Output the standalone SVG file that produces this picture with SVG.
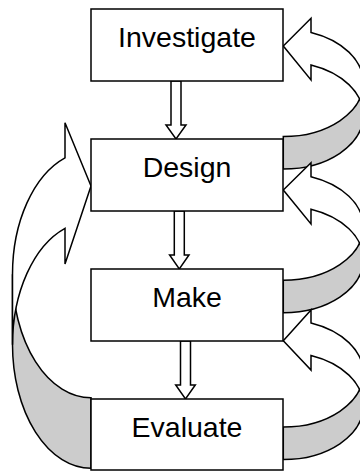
<svg xmlns="http://www.w3.org/2000/svg" width="360" height="471" viewBox="0 0 360 471">
  <style>
    .box { fill: #ffffff; stroke: #000000; stroke-width: 1.5; }
    .label { font-family: "Liberation Sans", Arial, sans-serif; font-size: 28.5px; fill: #000000; text-anchor: middle; }
    .back { fill: #cccccc; stroke: #000000; stroke-width: 1.5; stroke-linejoin: miter; }
    .front { fill: #ffffff; stroke: #000000; stroke-width: 1.5; stroke-linejoin: miter; }
  </style>

  <rect width="360" height="471" fill="#ffffff"/>

  <g id="connectors">
    <!-- straight hollow arrows between the stages -->
    <path class="front" d="M171,81 L171,125 L166,125 L176,139 L186,125 L181,125 L181,81 Z"/>
    <path class="front" d="M174.3,211 L174.3,255 L169.6,255 L179.3,269 L189,255 L184.3,255 L184.3,211 Z"/>
    <path class="front" d="M180.5,341 L180.5,385 L175.7,385 L185.5,399 L195.3,385 L190.5,385 L190.5,341 Z"/>

    <!-- curved return arrow: Design back to Investigate -->
    <g id="loop-design-investigate">
      <path class="back" d="M283.3,169 A80,53.7 0 0 0 363.3,115.3 L363.3,82.8 A80,53.7 0 0 1 283.3,136.5 Z"/>
      <path class="front" d="M363.3,115.3 A80,53.7 0 0 0 311,64.9 L311,80 L283.3,46 L311,18.3 L311,32.4 A80,53.7 0 0 1 363.3,82.8 Z"/>
    </g>

    <!-- curved return arrow: Make back to Design -->
    <g id="loop-make-design">
      <path class="back" d="M283.3,312.7 A80,53.4 0 0 0 363.3,259.3 L363.3,226.8 A80,53.4 0 0 1 283.3,280.2 Z"/>
      <path class="front" d="M363.3,259.3 A80,53.4 0 0 0 311,209.2 L311,224 L283.3,190 L311,162.7 L311,176.7 A80,53.4 0 0 1 363.3,226.8 Z"/>
    </g>

    <!-- curved return arrow: Evaluate back to Make -->
    <g id="loop-evaluate-make">
      <path class="back" d="M283.3,459.5 A80,53.7 0 0 0 363.3,405.8 L363.3,373.3 A80,53.7 0 0 1 283.3,427 Z"/>
      <path class="front" d="M363.3,405.8 A80,53.7 0 0 0 311,355.4 L311,370 L283.3,340.7 L311,310 L311,322.9 A80,53.7 0 0 1 363.3,373.3 Z"/>
    </g>

    <!-- large curved arrow on the left: Evaluate back to Design -->
    <g id="loop-evaluate-design">
      <path class="back" d="M91,468.3 A78.5,123.5 0 0 1 12.5,344.8 L12.5,274.3 A78.5,123.5 0 0 0 91,397.8 Z"/>
      <path class="front" d="M12.5,344.8 A78.5,123.5 0 0 1 65,228.3 L65,264 L91,186 L65,122.7 L65,157.8 A78.5,123.5 0 0 0 12.5,274.3 Z"/>
    </g>
  </g>

  <g id="investigate">
    <rect class="box" x="91" y="9" width="192" height="72"/>
    <text class="label" x="187" y="46.5">Investigate</text>
  </g>
  <g id="design">
    <rect class="box" x="91" y="139" width="192" height="72"/>
    <text class="label" x="187" y="176.7">Design</text>
  </g>
  <g id="make">
    <rect class="box" x="91" y="269" width="192" height="72"/>
    <text class="label" x="187" y="306.7">Make</text>
  </g>
  <g id="evaluate">
    <rect class="box" x="91" y="399" width="192" height="71"/>
    <text class="label" x="187" y="436.7">Evaluate</text>
  </g>
</svg>
